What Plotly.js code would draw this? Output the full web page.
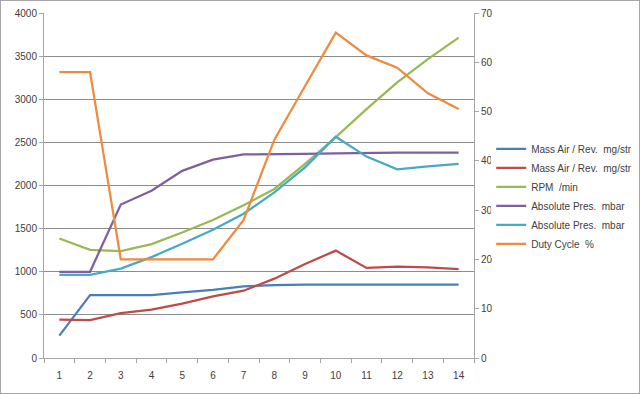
<!DOCTYPE html>
<html>
<head>
<meta charset="utf-8">
<script src="https://cdn.plot.ly/plotly-3.0.1.min.js"></script>
<style>
html,body{margin:0;padding:0;background:#fff;}
#chart{width:638px;height:392px;border:1px solid #a6a6a6;}
</style>
</head>
<body>
<div id="chart"></div>
<script>
const categories = ["1","2","3","4","5","6","7","8","9","10","11","12","13","14"];
const massAir1 = [260,730,730,730,760,790,830,845,850,850,850,850,850,850];
const massAir2 = [445,440,520,560,630,715,780,920,1090,1245,1045,1060,1050,1030];
const rpm = [1385,1255,1240,1320,1455,1600,1770,1960,2250,2560,2885,3195,3465,3715];
const absPres1 = [1000,1000,1780,1940,2170,2300,2360,2360,2368,2372,2380,2380,2380,2380];
const absPres2 = [963,963,1037,1170,1325,1488,1672,1920,2210,2565,2335,2188,2222,2250];
const dutyCycle = [58,58,20,20,20,20,28,44.3,55.2,66,61.4,58.9,53.7,50.5];

const names = ["Mass Air / Rev.  mg/str","Mass Air / Rev.  mg/str","RPM  /min","Absolute Pres.  mbar","Absolute Pres.  mbar","Duty Cycle  %"];
const colors = ["#4a7ebb","#be4b48","#98b954","#7d60a0","#46aac5","#f08a3c"];
const series = [massAir1, massAir2, rpm, absPres1, absPres2, dutyCycle];

const traces = series.map((s,i)=>({
  x: categories, y: s, type: "scatter", mode: "lines",
  name: names[i], yaxis: i===5 ? "y2" : "y",
  line: {color: colors[i], width: 2.25}
}));

const font = {family: "Liberation Sans, Arial, sans-serif", size: 10, color: "#404040"};
const layout = {
  width: 638, height: 392,
  margin: {l: 43, r: 165, t: 12, b: 35, autoexpand: false},
  paper_bgcolor: "#fff", plot_bgcolor: "#fff",
  font: font,
  showlegend: true,
  legend: {x: 1.04, y: 0.648, xanchor: "left", yanchor: "top", font: {size: 10, color: "#404040"}, tracegroupgap: 0, itemwidth: 30},
  xaxis: {type: "category", range: [-0.5, 13.5], showgrid: false, showline: true, linecolor: "#a6a6a6", linewidth: 1,
    ticks: "outside", tickson: "boundaries", ticklen: 4, tickcolor: "#a6a6a6", zeroline: false, ticklabelstandoff: 8},
  yaxis: {range: [0,4000], dtick: 500, showgrid: true, gridcolor: "#8c8c8c", gridwidth: 1,
    showline: true, linecolor: "#a6a6a6", ticks: "outside", ticklen: 4, tickcolor: "#a6a6a6", zeroline: false},
  yaxis2: {range: [0,70], dtick: 10, overlaying: "y", side: "right", showgrid: false,
    showline: true, linecolor: "#a6a6a6", ticks: "outside", ticklen: 4, tickcolor: "#a6a6a6", zeroline: false}
};
Plotly.newPlot("chart", traces, layout, {displayModeBar: false, staticPlot: true});
</script>
</body>
</html>
